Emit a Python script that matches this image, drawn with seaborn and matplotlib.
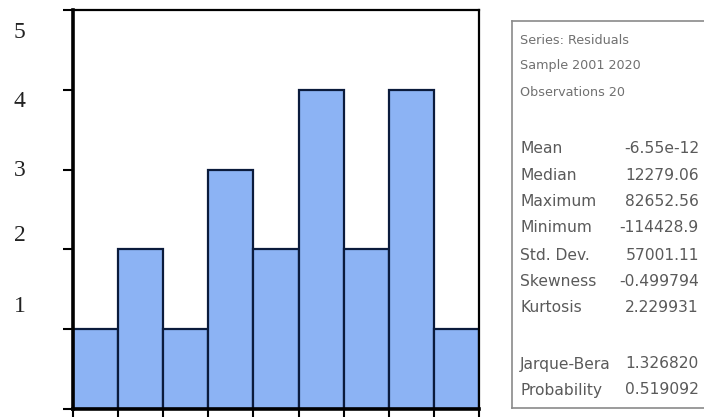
import matplotlib
matplotlib.use("Agg")
import matplotlib.pyplot as plt
import seaborn as sns
import numpy as np
import pandas as pd

# ---- data ----
bin_edges = [-125000, -100000, -75000, -50000, -25000, 0, 25000, 50000, 75000, 100000]
bin_centers = [-112500, -87500, -62500, -37500, -12500, 12500, 37500, 62500, 87500]
bin_counts = [1, 2, 1, 3, 2, 4, 2, 4, 1]
y_ticks = [0, 1, 2, 3, 4, 5]
y_tick_labels = ["1", "2", "3", "4", "5"]
y_label_pos = [1.32, 2.20, 3.02, 3.89, 4.75]

header_lines = ["Series: Residuals", "Sample 2001 2020", "Observations 20"]
stat_names = ["Mean", "Median", "Maximum", "Minimum", "Std. Dev.", "Skewness", "Kurtosis"]
stat_values = ["-6.55e-12", "12279.06", "82652.56", "-114428.9", "57001.11", "-0.499794", "2.229931"]
test_names = ["Jarque-Bera", "Probability"]
test_values = ["1.326820", "0.519092"]

df = pd.DataFrame({"resid": bin_centers, "count": bin_counts})

sns.set_theme(style="white")
W, H = 704, 418
fig = plt.figure(figsize=(W / 100, H / 100), dpi=100)
ax = fig.add_axes([73 / W, (H - 409) / H, (479 - 73) / W, (409 - 10) / H])

sns.histplot(data=df, x="resid", weights="count", bins=bin_edges, ax=ax,
             color="#8cb3f4", alpha=1.0, edgecolor="#0b1b3c", linewidth=1.6)

ax.set_xlim(bin_edges[0], bin_edges[-1])
ax.set_ylim(0, 5)
ax.set_xlabel("")
ax.set_ylabel("")

ax.set_xticks(bin_edges)
ax.set_xticklabels([])
ax.set_yticks(y_ticks)
ax.set_yticklabels([])
ax.set_yticks(y_label_pos, labels=y_tick_labels, minor=True)
ax.tick_params(axis="x", which="major", direction="out", length=6, width=1.5,
               color="black", bottom=True)
ax.tick_params(axis="y", which="major", direction="out", length=7, width=1.5,
               color="black", left=True)
ax.tick_params(axis="y", which="minor", length=0, pad=34, left=True)
for lab in ax.get_yticklabels(minor=True):
    lab.set_fontfamily("Liberation Serif")
    lab.set_fontsize(17)
    lab.set_color("#222222")

for s in ["top", "right"]:
    ax.spines[s].set_color("black")
    ax.spines[s].set_linewidth(1.6)
for s in ["left", "bottom"]:
    ax.spines[s].set_color("black")
    ax.spines[s].set_linewidth(2.6)

# ---- stats box ----
bx = fig.add_axes([512 / W, (H - 408) / H, 0.5, (408 - 21) / H])
bx.set_xticks([])
bx.set_yticks([])
bx.set_facecolor("white")
for s in bx.spines.values():
    s.set_color("#8a8a8a")
    s.set_linewidth(1.2)

txt_kw = dict(fontsize=11.2, color="#5a5a5a", family="DejaVu Sans", va="center")

def fy(py):
    return 1 - py / H

head_y = [40, 66, 92]
for t, py in zip(header_lines, head_y):
    fig.text(520 / W, fy(py), t, fontsize=9.2, color="#707070", family="DejaVu Sans", va="center")

stat_y = [149, 175, 202, 228, 255, 281, 307]
for n, v, py in zip(stat_names, stat_values, stat_y):
    fig.text(520 / W, fy(py), n, **txt_kw)
    fig.text(699 / W, fy(py), v, ha="right", **txt_kw)

test_y = [364, 390]
for n, v, py in zip(test_names, test_values, test_y):
    fig.text(520 / W, fy(py), n, **txt_kw)
    fig.text(699 / W, fy(py), v, ha="right", **txt_kw)

fig.savefig("out.png", dpi=100)
